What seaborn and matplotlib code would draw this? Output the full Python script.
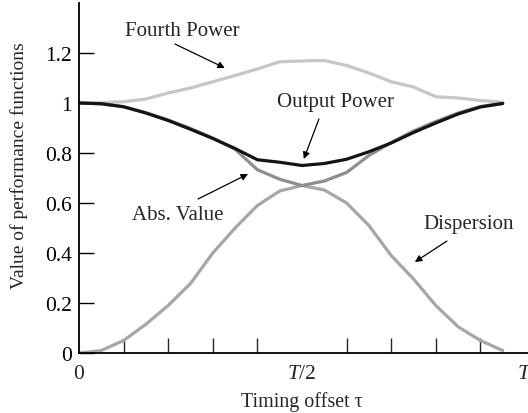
import numpy as np
import pandas as pd
import matplotlib
matplotlib.use("Agg")
import matplotlib.pyplot as plt
import seaborn as sns

# Timing offsets in units of the symbol period T (20 offsets per period)
offset = [i / 20 for i in range(20)]

fourth_power = [1.000, 1.001, 1.005, 1.016, 1.040, 1.060, 1.085, 1.110, 1.136, 1.165,
                1.168, 1.170, 1.150, 1.120, 1.085, 1.064, 1.025, 1.020, 1.010, 1.003]
output_power = [1.000, 0.997, 0.985, 0.960, 0.930, 0.895, 0.858, 0.818, 0.773, 0.763,
                0.750, 0.758, 0.775, 0.805, 0.840, 0.882, 0.920, 0.956, 0.984, 0.998]
abs_value = [1.000, 0.997, 0.985, 0.961, 0.932, 0.898, 0.860, 0.815, 0.733, 0.695,
             0.670, 0.688, 0.722, 0.790, 0.842, 0.888, 0.926, 0.960, 0.986, 0.999]
dispersion = [0.000, 0.010, 0.050, 0.115, 0.190, 0.278, 0.400, 0.500, 0.590, 0.648,
              0.670, 0.652, 0.600, 0.510, 0.390, 0.296, 0.190, 0.105, 0.050, 0.010]

series_names = ["Dispersion", "Fourth Power", "Abs. Value", "Output Power"]
series_values = [dispersion, fourth_power, abs_value, output_power]
series_colors = {"Dispersion": "#a6a6a6", "Fourth Power": "#c6c6c6",
                 "Abs. Value": "#8e8e8e", "Output Power": "#141414"}

y_ticks = [0, 0.2, 0.4, 0.6, 0.8, 1.0, 1.2]
y_tick_labels = ["0", "0.2", "0.4", "0.6", "0.8", "1", "1.2"]
x_label_ticks = [0, 0.5, 1.0]
x_tick_labels = ["0", "$T$/2", "$T$"]
x_minor_ticks = [0.1, 0.2, 0.3, 0.4, 0.5, 0.6, 0.7, 0.8, 0.9]

df = pd.DataFrame({
    "offset": np.tile(offset, len(series_names)),
    "value": np.concatenate(series_values),
    "curve": np.repeat(series_names, len(offset)),
})

sns.set_style("ticks")
plt.rcParams["font.family"] = ["Liberation Serif", "DejaVu Serif"]
plt.rcParams["mathtext.fontset"] = "custom"
plt.rcParams["mathtext.rm"] = "Liberation Serif"
plt.rcParams["mathtext.it"] = "Liberation Serif:italic"

fig = plt.figure(figsize=(5.28, 4.14), dpi=100)
ax = fig.add_axes([79 / 528, 60 / 414, 449 / 528, 350 / 414])

sns.lineplot(data=df, x="offset", y="value", hue="curve", hue_order=series_names,
             palette=series_colors, linewidth=2.3, legend=False, ax=ax,
             estimator=None, sort=False)

ax.set_xlim(0, 449 / 446)
ax.set_ylim(0, 1.4)

ax.set_yticks(y_ticks)
ax.set_yticklabels(y_tick_labels)
ax.set_xticks(x_label_ticks)
ax.set_xticklabels(x_tick_labels)
ax.set_xticks(x_minor_ticks, minor=True)

ax.tick_params(axis="y", which="major", direction="in", length=11, width=1.0,
               labelsize=15.5, pad=5, colors="black")
ax.tick_params(axis="x", which="major", length=0, labelsize=15.5, pad=8)
ax.tick_params(axis="x", which="minor", direction="in", length=11, width=1.0)

for side in ["top", "right"]:
    ax.spines[side].set_visible(False)
for side in ["left", "bottom"]:
    ax.spines[side].set_linewidth(1.3)
    ax.spines[side].set_color("black")

ax.set_xlabel("")
ax.set_ylabel("")
fig.text(302 / 528, 1 - 402 / 414, "Timing offset τ", fontsize=14.4,
         ha="center", va="center")
fig.text(19 / 528, 1 - 166 / 414, "Value of performance functions", fontsize=14,
         ha="center", va="center", rotation=90)

arrow = dict(arrowstyle="-|>", color="black", lw=0.9, mutation_scale=10,
             shrinkA=0, shrinkB=0)

# curve labels, each with a pointer to its curve
labels = [
    ("Fourth Power", (0.231, 1.288), (0.215, 1.236), (0.327, 1.140)),
    ("Output Power", (0.574, 1.008), (0.538, 0.936), (0.504, 0.776)),
    ("Abs. Value", (0.222, 0.552), (0.267, 0.616), (0.379, 0.716)),
    ("Dispersion", (0.874, 0.516), (0.825, 0.448), (0.753, 0.364)),
]
for text, pos, start, end in labels:
    ax.text(pos[0], pos[1], text, fontsize=15, ha="center", va="center")
    ax.annotate("", xy=end, xytext=start, arrowprops=arrow)

fig.savefig("out.png", dpi=100)
